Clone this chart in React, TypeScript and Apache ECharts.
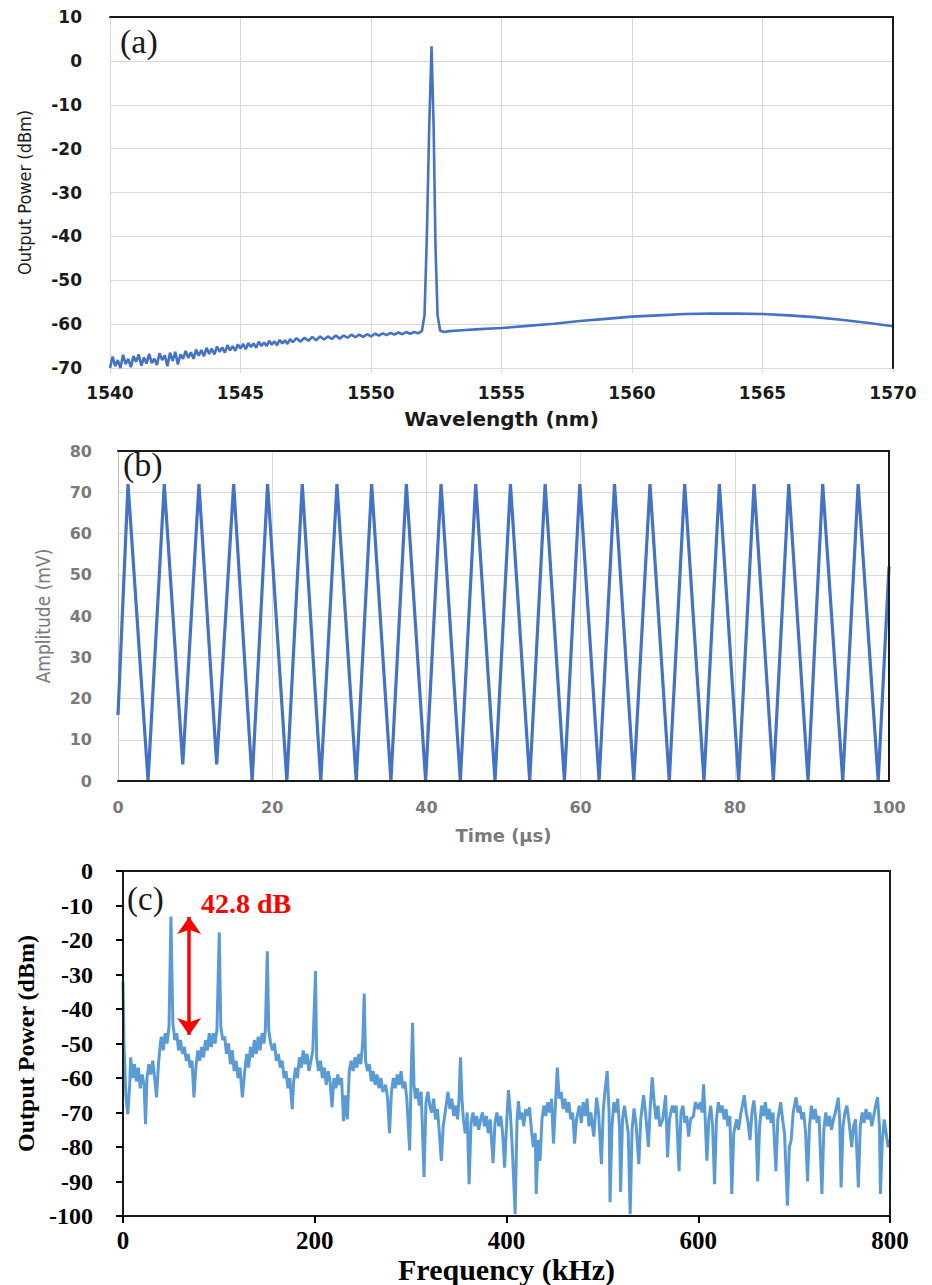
import React, { useEffect, useRef } from "react";
import * as echarts from "echarts";

// ---------- Panel (a): optical spectrum ----------
const spectrumA: [number, number][] = [
  [1540.0, -70.0], [1540.1, -67.4], [1540.2, -69.6], [1540.3, -68.2], [1540.4, -70.0], [1540.5, -67.0],
  [1540.6, -69.1], [1540.7, -67.9], [1540.8, -69.8], [1540.9, -67.3], [1541.0, -68.6], [1541.1, -66.9],
  [1541.2, -69.5], [1541.3, -67.6], [1541.4, -69.0], [1541.5, -66.8], [1541.6, -68.9], [1541.7, -67.9],
  [1541.8, -69.3], [1541.9, -66.6], [1542.0, -68.2], [1542.1, -67.1], [1542.2, -69.6], [1542.3, -66.5],
  [1542.4, -68.4], [1542.5, -66.3], [1542.6, -69.2], [1542.7, -66.9], [1542.8, -67.9], [1542.9, -66.1],
  [1543.0, -67.7], [1543.1, -66.4], [1543.2, -67.9], [1543.3, -65.8], [1543.4, -67.2], [1543.5, -65.9],
  [1543.6, -67.3], [1543.7, -65.4], [1543.8, -66.8], [1543.9, -65.6], [1544.0, -66.9], [1544.1, -65.1],
  [1544.2, -66.3], [1544.3, -65.3], [1544.4, -66.5], [1544.5, -64.8], [1544.6, -66.0], [1544.7, -65.0],
  [1544.8, -66.1], [1544.9, -64.6], [1545.0, -65.6], [1545.1, -64.5], [1545.2, -65.7], [1545.3, -64.3],
  [1545.4, -65.2], [1545.5, -64.4], [1545.6, -65.4], [1545.7, -64.0], [1545.8, -65.0], [1545.9, -64.2],
  [1546.0, -65.0], [1546.1, -63.8], [1546.2, -64.7], [1546.3, -63.9], [1546.4, -64.8], [1546.5, -63.6],
  [1546.6, -64.4], [1546.7, -63.7], [1546.8, -64.5], [1546.9, -63.4], [1547.0, -64.1],
  [1547.15, -63.2], [1547.3, -64.0], [1547.45, -63.1], [1547.6, -63.8], [1547.75, -62.9], [1547.9, -63.7],
  [1548.05, -62.8], [1548.2, -63.5], [1548.35, -62.8], [1548.5, -63.4], [1548.65, -62.6], [1548.8, -63.3],
  [1548.95, -62.6], [1549.1, -63.1], [1549.25, -62.4], [1549.4, -63.0], [1549.55, -62.4], [1549.7, -62.9],
  [1549.85, -62.3], [1550.0, -62.8], [1550.15, -62.2], [1550.3, -62.6], [1550.45, -62.1], [1550.6, -62.5],
  [1550.75, -62.0], [1550.9, -62.4], [1551.05, -61.9], [1551.2, -62.3], [1551.35, -61.8], [1551.5, -62.2],
  [1551.65, -61.8], [1551.8, -62.1], [1551.95, -61.6],
  [1552.05, -58], [1552.14, -40], [1552.23, -15], [1552.32, 3.3], [1552.4, -15], [1552.47, -42],
  [1552.55, -58], [1552.65, -61.5], [1552.8, -61.8], [1553.0, -61.6], [1553.5, -61.4], [1554.0, -61.2],
  [1555.0, -60.9], [1556.0, -60.4], [1557.0, -59.9], [1558.0, -59.3], [1559.0, -58.8], [1560.0, -58.3],
  [1561.0, -58.0], [1562.0, -57.7], [1563.0, -57.6], [1564.0, -57.6], [1565.0, -57.7], [1566.0, -58.0],
  [1567.0, -58.4], [1568.0, -59.0], [1569.0, -59.7], [1570.0, -60.5],
];

// ---------- Panel (b): time trace ----------
const bStart: [number, number] = [0, 16];
const bEnd: [number, number] = [100, 52];
const bPeakTimes = [1.3, 6.0, 10.5, 15.0, 19.4, 23.9, 28.4, 32.9, 37.4, 41.9, 46.4, 50.9, 55.4, 59.9, 64.4, 69.0, 73.5, 78.0, 82.5, 87.0, 91.4, 96.0];
const bPeakValues = [72, 72, 72, 72, 72, 72, 72, 72, 72, 72, 72, 72, 72, 72, 72, 72, 72, 72, 72, 72, 72, 72];
const bTroughTimes = [3.9, 8.4, 12.8, 17.4, 21.9, 26.3, 30.9, 35.4, 39.9, 44.4, 48.9, 53.4, 57.9, 62.4, 66.9, 71.5, 76.0, 80.5, 85.0, 89.5, 94.0, 98.6];
const bTroughValues = [0, 4, 4, 0, 0, 0, 0, 0, 0, 0, 0, 0, 0, 0, 0, 0, 0, 0, 0, 0, 0, 0];

// ---------- Panel (c): RF spectrum ----------
const spectrumC: [number, number][] = [
  [0, -32], [1, -50], [3, -65], [5, -70.5], [7, -62], [8, -54], [10, -60], [12, -56], [14, -61], [16, -57],
  [18, -63], [20, -59], [22, -62], [23.5, -73.4], [25, -60], [27, -56], [29, -59], [31, -55], [33, -60],
  [35, -65.6], [37, -56], [39, -50], [40, -48], [42, -52], [44, -47], [46, -50], [48, -45], [50, -13.2],
  [52, -44], [54, -49], [56, -47], [58, -52], [60, -49], [62, -53], [64, -51], [66, -55], [68, -53], [70, -57],
  [72, -55], [74, -65.6], [76, -57], [78, -52], [80, -55], [82, -51], [84, -54], [86, -49], [88, -52], [90, -47],
  [92, -51], [94, -47], [96, -50], [98, -46], [100.4, -17.8], [102, -45], [104, -49], [106, -48], [108, -53],
  [110, -50], [112, -56], [114, -52], [116, -58], [118, -55], [120, -60], [122, -57], [124.5, -65.6], [127, -58],
  [129, -53], [131, -57], [133, -51], [135, -54], [137, -49], [139, -53], [141, -48], [143, -52], [145, -47],
  [147, -50], [148.5, -46], [150.5, -23.3], [152, -46], [154, -50], [156, -52], [158, -50], [160, -55],
  [162, -53], [164, -57], [166, -55], [168, -60], [170, -58], [172, -63], [174, -60], [176.5, -69], [178, -61],
  [180, -57], [182, -60], [184, -54], [186, -57], [188, -52], [190, -56], [192, -53], [194, -58], [196, -55],
  [198, -52], [200.8, -29], [202, -54], [204, -58], [206, -55], [208, -60], [210, -57], [212, -62], [214, -58],
  [216, -61], [218, -68.5], [220, -60], [222, -63], [224, -59], [226, -62], [228, -60], [230, -72.5], [232, -65],
  [234, -72], [236, -58], [238, -55], [240, -58], [242, -54], [244, -57], [246, -53], [248, -56], [250, -50],
  [251.6, -35.5], [253, -55], [255, -58], [257, -56], [259, -61], [261, -58], [263, -62], [265, -59], [267, -63],
  [269, -60], [271, -64], [274, -62], [276, -66], [278, -76], [280, -64], [282, -60], [284, -63], [286, -59],
  [288, -62], [290, -58], [292, -63], [294, -61], [296, -66], [299, -81], [300.5, -60], [302, -44], [303.5, -62],
  [305, -66], [307, -63], [309, -68], [311, -64], [314, -88.7], [316, -67], [318, -64], [320, -68], [322, -70],
  [324, -66], [326, -72], [328, -69], [330, -76], [332, -84], [334, -74], [336, -70], [339, -64], [341, -69],
  [343, -66], [345, -71], [347, -68], [349, -72], [350.5, -66], [352, -54], [353.5, -66], [355, -72], [357, -76],
  [359, -70], [361, -90.8], [363, -73], [365, -70], [367, -74], [369, -71], [371, -75], [373, -72], [375, -70],
  [377, -74], [379, -71], [381, -76], [383, -72], [386, -84.6], [388, -73], [390, -70], [392, -74], [394, -71],
  [396, -76], [398, -86], [400, -74], [402, -63.5], [404, -70], [406, -80], [409, -99.5], [411, -72],
  [412.5, -66.7], [414, -72], [416, -70], [418, -74], [420, -69], [422, -71], [424, -68.5], [426, -75], [428, -80],
  [430, -76], [431, -93.6], [433, -78], [435, -84], [437, -72], [439, -68], [441, -71], [443, -67], [445, -70],
  [447, -66], [449, -79], [451, -68], [453, -57], [455, -66], [457, -64], [459, -69], [461, -66], [463, -70],
  [465, -67], [467, -72], [469, -70], [471, -79], [473, -72], [476, -68], [478, -73], [480, -67], [482, -71],
  [484, -66], [486, -74], [488, -70], [491, -77], [494, -65.7], [496, -70], [499, -85], [501, -69], [503, -63],
  [505, -58], [507, -70], [508, -96], [510, -74], [512, -67], [514, -70], [516, -66], [518, -75], [519, -93],
  [521, -72], [523, -68], [525, -72], [527, -76], [529, -99.5], [531, -75], [533, -68.8], [535, -73], [538, -85],
  [540, -72], [543, -65], [545, -70], [548, -80], [550, -68], [552, -59.8], [554, -67], [556, -72], [558, -68],
  [560, -74], [563, -72], [566, -65], [568, -83], [570, -72], [573, -68], [575, -70], [577, -68], [580, -87],
  [582, -70], [584, -68], [586, -73], [588, -71], [590, -77], [592, -72], [595, -71], [597, -67], [600, -69],
  [602, -67], [604, -70], [605.5, -61.8], [607, -70], [609, -84], [611, -72], [613, -68], [615, -74],
  [617, -90.8], [619, -72], [621, -67], [623, -70], [625, -68], [627, -72], [629, -69], [631, -74], [633, -71],
  [635, -93.6], [637, -76], [640, -72], [642, -75], [644, -71], [646, -68], [648, -65], [650, -70], [652, -73],
  [654, -78], [656, -70], [658, -66.5], [660, -72], [662, -90], [664, -74], [666, -68], [668, -71], [670, -67],
  [672, -72], [674, -69], [676, -73], [678, -70], [681, -87], [683, -72], [686, -67], [688, -72], [690, -76],
  [693, -97], [695, -80], [697, -78], [699, -70], [702, -65.6], [704, -70], [706, -68], [708, -72], [710, -70],
  [712, -76], [714, -90], [716, -74], [718, -68], [720, -72], [722, -69], [724, -73], [726, -71], [729, -93.6],
  [731, -75], [733, -70], [735, -74], [737, -71], [739, -75], [741, -72], [743, -70], [746, -65.7], [747.5, -72],
  [749, -91.7], [751, -74], [753, -70], [755, -68], [757, -72], [760, -80], [762, -74], [764, -72], [767, -91.7],
  [769, -74], [771, -70], [773, -73], [775, -69], [777, -72], [779, -70], [781, -74], [783, -71], [785, -68],
  [787, -65.5], [789, -74], [790, -93.6], [792, -78], [794, -72], [796, -76], [798, -80], [800, -78],
];
// Red double arrow annotation (data coordinates in panel c)
const arrowFreq = 69;
const arrowTop = -13.3;
const arrowBottom = -47.5;
const arrowLabel = "42.8 dB";

const SANS = "'DejaVu Sans', Verdana, sans-serif";
const NARROW = "'Liberation Sans Narrow', 'DejaVu Sans Condensed', sans-serif";
const SERIF = "'Liberation Serif', 'Times New Roman', serif";
const GRID = "#d9d9d9";

function buildTrace(): [number, number][] {
  const pts: [number, number][] = [bStart];
  for (let i = 0; i < bPeakTimes.length; i++) {
    pts.push([bPeakTimes[i], bPeakValues[i]]);
    pts.push([bTroughTimes[i], bTroughValues[i]]);
  }
  pts.push(bEnd);
  return pts;
}

export default function App() {
  const ref = useRef<HTMLDivElement>(null);
  useEffect(() => {
    if (!ref.current) return;
    const chart = echarts.init(ref.current, null, { renderer: "svg" });
    const frame = (w: number) => ({
      show: true,
      onZero: false,
      lineStyle: { color: "#1a1a1a", width: w },
    });
    const hidden = { show: false };
    const plain = (v: number) => String(v);
    chart.setOption({
      animation: false,
      backgroundColor: "#fff",
      textStyle: { fontFamily: SANS },
      grid: [
        { left: 110, right: 39, top: 17, height: 351 },
        { left: 118, right: 43, top: 451, height: 330 },
        { left: 123, right: 42, top: 871, height: 346 },
      ],
      xAxis: [
        {
          gridIndex: 0, type: "value", min: 1540, max: 1570, interval: 5, z: 0,
          axisLine: { show: true, onZero: false, lineStyle: { color: GRID, width: 1 } },
          axisTick: { show: true, length: 5, lineStyle: { color: GRID } },
          splitLine: { show: true, lineStyle: { color: GRID, width: 1 } },
          axisLabel: { fontFamily: SANS, fontWeight: "bold", fontSize: 17, color: "#1a1a1a", margin: 16, formatter: plain },
          name: "Wavelength (nm)", nameLocation: "middle", nameGap: 41,
          nameTextStyle: { fontFamily: SANS, fontWeight: "bold", fontSize: 20, color: "#1a1a1a" },
        },
        {
          gridIndex: 0, type: "value", position: "top", min: 1540, max: 1570, z: 5,
          axisLine: frame(2), axisTick: hidden, axisLabel: hidden, splitLine: hidden,
        },
        {
          gridIndex: 1, type: "value", min: 0, max: 100, interval: 20, z: 0,
          axisLine: { show: false, onZero: false }, axisTick: hidden,
          splitLine: { show: true, lineStyle: { color: GRID, width: 1 } },
          axisLabel: { fontFamily: SANS, fontWeight: "bold", fontSize: 16, color: "#7a7a7a", margin: 18 },
          name: "Time (µs)", nameLocation: "middle", nameGap: 45,
          nameTextStyle: { fontFamily: SANS, fontWeight: "bold", fontSize: 18, color: "#7a7a7a" },
        },
        {
          gridIndex: 1, type: "value", position: "top", min: 0, max: 100, z: 5,
          axisLine: frame(2), axisTick: hidden, axisLabel: hidden, splitLine: hidden,
        },
        {
          gridIndex: 2, type: "value", min: 0, max: 800, interval: 200, z: 5,
          axisLine: frame(2),
          axisTick: { show: true, length: 7, lineStyle: { color: "#000", width: 2 } },
          splitLine: hidden,
          axisLabel: { fontFamily: SERIF, fontWeight: "bold", fontSize: 25, color: "#000", margin: 12 },
          name: "Frequency (kHz)", nameLocation: "middle", nameGap: 38,
          nameTextStyle: { fontFamily: SERIF, fontWeight: "bold", fontSize: 30, color: "#000" },
        },
        {
          gridIndex: 2, type: "value", position: "top", min: 0, max: 800, z: 5,
          axisLine: frame(2), axisTick: hidden, axisLabel: hidden, splitLine: hidden,
        },
        {
          gridIndex: 1, type: "value", position: "bottom", min: 0, max: 100, z: 5,
          axisLine: frame(2), axisTick: hidden, axisLabel: hidden, splitLine: hidden,
        },
      ],
      yAxis: [
        {
          gridIndex: 0, type: "value", min: -70, max: 10, interval: 10, z: 0,
          axisLine: { show: true, onZero: false, lineStyle: { color: GRID, width: 1 } },
          axisTick: hidden,
          splitLine: { show: true, lineStyle: { color: GRID, width: 1 } },
          axisLabel: { fontFamily: SANS, fontWeight: "bold", fontSize: 17, color: "#1a1a1a", margin: 28 },
          name: "Output Power (dBm)", nameLocation: "middle", nameGap: 77, nameRotate: 90,
          nameTextStyle: { fontFamily: NARROW, fontSize: 18, color: "#1a1a1a" },
        },
        {
          gridIndex: 0, type: "value", position: "right", min: -70, max: 10, z: 5,
          axisLine: frame(2), axisTick: hidden, axisLabel: hidden, splitLine: hidden,
        },
        {
          gridIndex: 1, type: "value", min: 0, max: 80, interval: 10, z: 0,
          axisLine: { show: true, onZero: false, lineStyle: { color: "#bfbfbf", width: 1 } },
          axisTick: hidden,
          splitLine: { show: true, lineStyle: { color: GRID, width: 1 } },
          axisLabel: { fontFamily: SANS, fontWeight: "bold", fontSize: 16, color: "#7a7a7a", margin: 26 },
          name: "Amplitude (mV)", nameLocation: "middle", nameGap: 66, nameRotate: 90,
          nameTextStyle: { fontFamily: NARROW, fontSize: 19, color: "#7a7a7a" },
        },
        {
          gridIndex: 1, type: "value", position: "right", min: 0, max: 80, z: 5,
          axisLine: frame(2), axisTick: hidden, axisLabel: hidden, splitLine: hidden,
        },
        {
          gridIndex: 2, type: "value", min: -100, max: 0, interval: 10, z: 5,
          axisLine: frame(2),
          axisTick: { show: true, length: 7, lineStyle: { color: "#000", width: 2 } },
          splitLine: hidden,
          axisLabel: { fontFamily: SERIF, fontWeight: "bold", fontSize: 24, color: "#000", margin: 30 },
          name: "Output Power (dBm)", nameLocation: "middle", nameGap: 78, nameRotate: 90,
          nameTextStyle: { fontFamily: SERIF, fontWeight: "bold", fontSize: 24, color: "#000" },
        },
        {
          gridIndex: 2, type: "value", position: "right", min: -100, max: 0, z: 5,
          axisLine: frame(2), axisTick: hidden, axisLabel: hidden, splitLine: hidden,
        },
      ],
      series: [
        {
          type: "line", xAxisIndex: 0, yAxisIndex: 0, data: spectrumA, z: 3,
          showSymbol: false, symbol: "none", silent: true,
          lineStyle: { color: "#4472c4", width: 2.6 },
        },
        {
          type: "line", xAxisIndex: 2, yAxisIndex: 2, data: buildTrace(), z: 3,
          showSymbol: false, symbol: "none", silent: true,
          lineStyle: { color: "#4472c4", width: 3.2 },
        },
        {
          type: "line", xAxisIndex: 4, yAxisIndex: 4, data: spectrumC, z: 3,
          showSymbol: false, symbol: "none", silent: true,
          lineStyle: { color: "#5b9bd5", width: 3 },
          markLine: {
            silent: true,
            symbol: ["arrow", "arrow"],
            symbolSize: [18, 17],
            label: { show: false },
            lineStyle: { color: "#ff0000", width: 3.5, type: "solid" },
            data: [[{ coord: [arrowFreq, arrowTop] }, { coord: [arrowFreq, arrowBottom] }]],
          },
        },
      ],
      graphic: [
        { type: "text", left: 120, top: 24, z: 10, style: { text: "(a)", font: `34px ${SERIF}`, fill: "#1a1a1a" } },
        { type: "text", left: 123, top: 447, z: 10, style: { text: "(b)", font: `34px ${SERIF}`, fill: "#1a1a1a" } },
        { type: "text", left: 127, top: 882, z: 10, style: { text: "(c)", font: `33px ${SERIF}`, fill: "#1a1a1a" } },
        { type: "text", left: 201, top: 889, z: 10, style: { text: arrowLabel, font: `bold 28px ${SERIF}`, fill: "#ff0000" } },
      ],
    });
    return () => chart.dispose();
  }, []);
  return (
    <div
      ref={ref}
      style={{ position: "absolute", left: 0, top: 0, width: 932, height: 1285, background: "#fff" }}
    />
  );
}
